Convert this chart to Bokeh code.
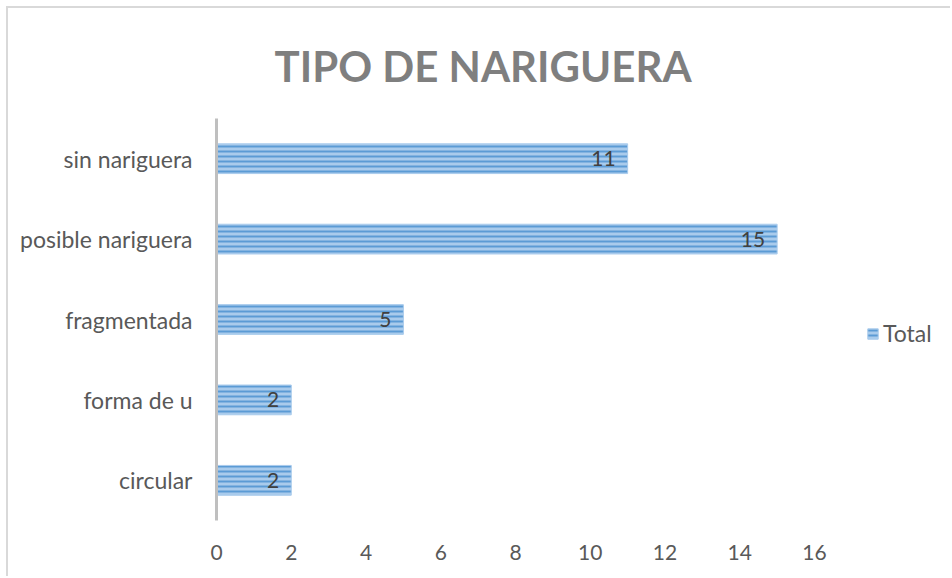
from bokeh.plotting import figure
from bokeh.models import ColumnDataSource, Legend, LegendItem, Range1d, FactorRange
from bokeh.embed import file_html
from bokeh.resources import INLINE

categories = ["circular", "forma de u", "fragmentada", "posible nariguera", "sin nariguera"]
values = [2, 2, 5, 15, 11]
labels = ["2", "2", "5", "15", "11"]
x_ticks = [0, 2, 4, 6, 8, 10, 12, 14, 16]

src = ColumnDataSource(dict(cat=categories, val=values, lab=labels))

# axis 0..16 spans 598px; the frame extends to the right edge (736px) to hold the legend
x_end = 16 * 736 / 598

p = figure(width=944, height=570, output_backend="svg", toolbar_location=None,
           y_range=FactorRange(*categories, range_padding=0), x_range=Range1d(0, x_end),
           min_border_left=208, min_border_right=0, min_border_top=110, min_border_bottom=58,
           title="TIPO DE NARIGUERA",
           styles={"margin-left": "6px", "margin-top": "6px",
                   "border-top": "2px solid #d9d9d9", "border-left": "2px solid #d9d9d9"})
p.outline_line_color = None
p.xgrid.grid_line_color = None
p.ygrid.grid_line_color = None

p.title.text_font = "Lato"
p.title.text_font_size = "42px"
p.title.text_font_style = "bold"
p.title.text_color = "#7f7f7f"
p.title.align = "left"
p.title.offset = 58
p.title.standoff = 56

r = p.hbar(y="cat", right="val", height=0.37, source=src,
           fill_color="#a9cbec", line_color="#a9cbec", line_width=1,
           hatch_pattern="horizontal_line", hatch_color="#5b9bd5",
           hatch_scale=5, hatch_weight=2)

p.text(x="val", y="cat", text="lab", source=src, x_offset=-12,
       text_align="right", text_baseline="middle", text_font_size="21px",
       text_color="#404040", text_font={"value": "Lato"})

p.xaxis.ticker = x_ticks
p.xaxis.axis_line_color = None
p.xaxis.major_tick_line_color = None
p.xaxis.minor_tick_line_color = None
p.xaxis.major_label_text_font = "Lato"
p.xaxis.major_label_text_font_size = "21px"
p.xaxis.major_label_text_color = "#595959"
p.xaxis.major_label_standoff = 18

p.yaxis.axis_line_color = "#bfbfbf"
p.yaxis.axis_line_width = 3
p.yaxis.major_tick_line_color = None
p.yaxis.minor_tick_line_color = None
p.yaxis.major_label_text_font = "Lato"
p.yaxis.major_label_text_font_size = "23px"
p.yaxis.major_label_text_color = "#595959"
p.yaxis.major_label_standoff = 18

legend = Legend(items=[LegendItem(label="Total", renderers=[r])],
                location=(650, 173), border_line_color=None, background_fill_alpha=0,
                label_text_font="Lato", label_text_font_size="23px",
                label_text_color="#595959", glyph_width=13, glyph_height=13,
                label_standoff=4, padding=4, margin=0)
p.add_layout(legend, "center")

open("out.html", "w").write(file_html(p, INLINE))
